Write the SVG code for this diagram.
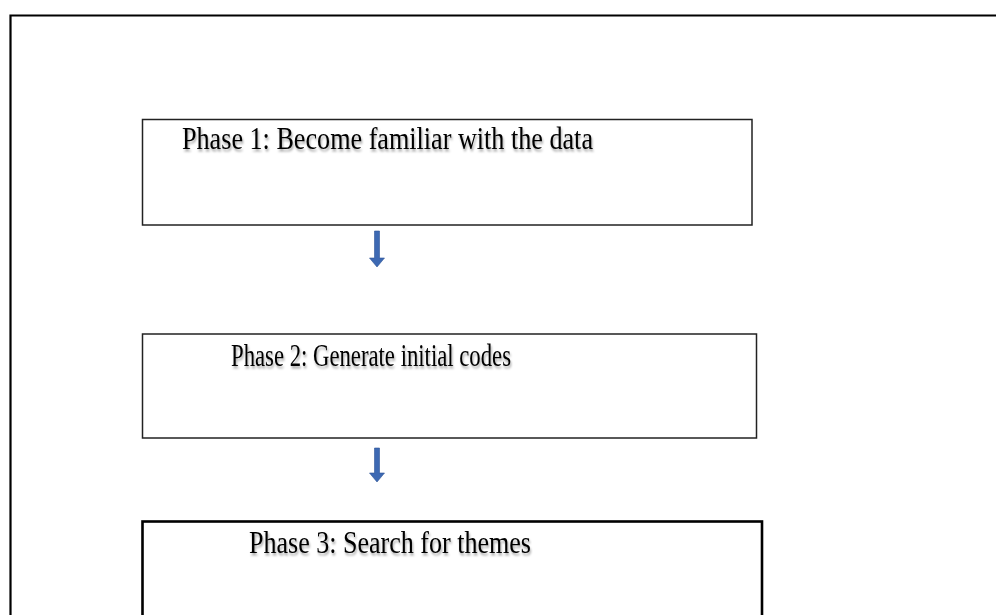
<svg xmlns="http://www.w3.org/2000/svg" width="996" height="615" viewBox="0 0 996 615">
<defs>
<style>
.box{fill:#fff;stroke:#222;stroke-width:1.5}
.lbl{font-family:"Liberation Serif","Times New Roman",serif;font-size:31px;fill:#000;filter:url(#sh)}
.arr{fill:#3d69b3;stroke:#2f5597;stroke-width:0.6}
</style>
<filter id="sh" x="-5%" y="-20%" width="110%" height="160%">
<feDropShadow dx="1" dy="2.5" stdDeviation="1.2" flood-color="#000" flood-opacity="0.35"/>
</filter>
</defs>
<rect width="996" height="615" fill="#fff"/>
<path d="M10.5 615 V15.5 H996" fill="none" stroke="#000" stroke-width="2.2"/>
<g id="node1">
<rect class="box" x="142.5" y="119.5" width="609.5" height="105.5"/>
<text class="lbl" x="182" y="149" textLength="411" lengthAdjust="spacingAndGlyphs">Phase 1: Become familiar with the data</text>
</g>
<g id="node2">
<rect class="box" x="142.5" y="334" width="614" height="104"/>
<text class="lbl" x="231" y="366" textLength="280" lengthAdjust="spacingAndGlyphs">Phase 2: Generate initial codes</text>
</g>
<g id="node3">
<rect class="box" x="142.5" y="521.5" width="619.5" height="110" style="stroke:#000;stroke-width:2.6"/>
<text class="lbl" x="249" y="553" textLength="282" lengthAdjust="spacingAndGlyphs">Phase 3: Search for themes</text>
</g>
<g id="connectors">
<path class="arr" d="M374.5 231 H379.5 V258 H384.5 L377 267 L369.5 258 H374.5 Z"/>
<path class="arr" d="M374.5 448 H379.5 V473 H384.5 L377 482 L369.5 473 H374.5 Z"/>
</g>
</svg>
